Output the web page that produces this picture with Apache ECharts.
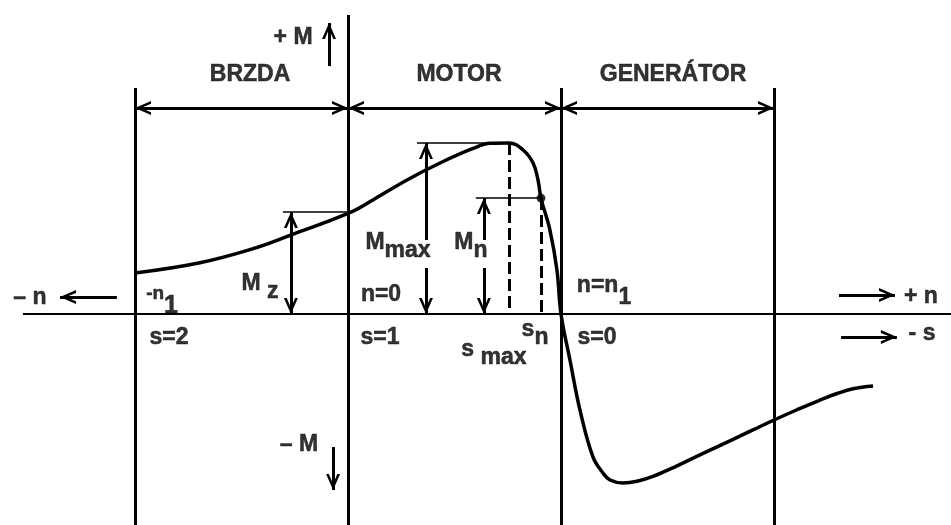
<!DOCTYPE html>
<html>
<head>
<meta charset="utf-8">
<script src="https://cdn.jsdelivr.net/npm/echarts@6/dist/echarts.min.js"></script>
<style>html,body{margin:0;padding:0;background:#fff}#c{width:951px;height:525px}</style>
</head>
<body>
<div id="c"></div>
<script>
// x: speed n / n1 ; y: torque M / Mmax
const curveN = [-1.000,-0.695,-0.446,-0.272,0.005,0.117,0.277,0.432,0.587,0.667,0.756,0.822,0.869,0.892,0.906,0.948,0.981,1.000,1.042,1.089,1.150,1.197,1.230,1.291,1.357,1.432,1.545,1.667,1.793,1.901,2.000,2.108,2.216,2.296,2.371,2.465];
const curveM = [0.240,0.300,0.382,0.460,0.591,0.667,0.784,0.883,0.968,0.998,1.000,0.959,0.883,0.784,0.678,0.491,0.257,0.000,-0.269,-0.561,-0.836,-0.930,-0.971,-0.988,-0.978,-0.950,-0.888,-0.815,-0.742,-0.678,-0.620,-0.560,-0.503,-0.465,-0.437,-0.421];

const regionBoundsN = [-1, 0, 1, 2];
const regionNames = ['BRZDA', 'MOTOR', 'GENERÁTOR'];

// characteristic points
const N_SMAX = 0.756, M_MAX = 1.0;      // breakdown torque
const N_SN = 0.906,  M_NOM = 0.678;     // nominal point
const N_MZ = -0.268, M_Z = 0.596;       // starting torque marker
const N_MMAX_ARROW = 0.366, N_MN_ARROW = 0.638;
const GAP_TOP = 0.433, GAP_BOTTOM = 0.269;

// annotations (text, n, M)
const annText = [
  'BRZDA', 'MOTOR', 'GENERÁTOR',
  '+ M', '– M', '– n', '+ n', '- s',
  '{su|-n}{dl|1}', '{u|M}{d| z}', 'n=0', 's=1', 's=2',
  '{u|M}{d|max}', '{u|M}{d|n}', '{uu|n=n}{dd|1}', 's=0', '{u|s}{d|n}', '{u|s }{d|max}'
];
const annN = [-0.460, 0.521, 1.526, -0.258, -0.230, -1.493, 2.690, 2.695,
  -0.873, -0.413, 0.155, 0.150, -0.840, 0.235, 0.577, 1.202, 1.169, 0.878, 0.685];
const annM = [1.397, 1.397, 1.397, 1.614, -0.766, 0.094, 0.099, -0.117,
  0.082, 0.152, 0.111, -0.140, -0.140, 0.392, 0.392, 0.129, -0.140, -0.117, -0.234];

// view window
const X_MIN = -1.6338, X_MAX = 2.8310, Y_MIN = -1.2339, Y_MAX = 1.8363;
const DIM_M = 1.205, FRAME_TOP = 1.322, AXIS_TOP = 1.749, AXIS_LEFT = -1.526;

const FONT = 'Liberation Sans';
const chev = 'path://M50,0 L100,100 L80,100 L50,38 L20,100 L0,100 Z';

function seg(a, b, s1, s2) {
  return [Object.assign({coord: a}, s1 || {}), Object.assign({coord: b}, s2 || {})];
}
const arrowEnd = {symbol: chev, symbolSize: [14, 16], symbolOffset: [0, 8]};
const noEnd = {symbol: 'none'};

const frameLines = regionBoundsN.map(n => seg([n, n === 0 ? AXIS_TOP : FRAME_TOP], [n, Y_MIN], noEnd, noEnd));
const dimLines = regionNames.map((_, i) => seg([regionBoundsN[i], DIM_M], [regionBoundsN[i + 1], DIM_M], arrowEnd, arrowEnd));
const refLines = [
  seg([N_MZ - 0.037, M_Z], [0, M_Z], noEnd, noEnd),
  seg([N_MMAX_ARROW - 0.042, M_MAX], [N_SMAX, M_MAX], noEnd, noEnd),
  seg([N_MN_ARROW - 0.038, M_NOM], [N_SN, M_NOM], noEnd, noEnd)
];
const measLines = [
  seg([N_MZ, M_Z], [N_MZ, 0], arrowEnd, arrowEnd),
  seg([N_MMAX_ARROW, M_MAX], [N_MMAX_ARROW, GAP_TOP], arrowEnd, noEnd),
  seg([N_MMAX_ARROW, GAP_BOTTOM], [N_MMAX_ARROW, 0], noEnd, arrowEnd),
  seg([N_MN_ARROW, M_NOM], [N_MN_ARROW, GAP_TOP], arrowEnd, noEnd),
  seg([N_MN_ARROW, GAP_BOTTOM], [N_MN_ARROW, 0], noEnd, arrowEnd)
];
const dashLines = [
  seg([N_SMAX, M_MAX], [N_SMAX, 0], noEnd, noEnd),
  seg([N_SN, M_NOM], [N_SN, 0], noEnd, noEnd)
];
const dirLines = [
  seg([-0.089, 1.450], [-0.089, 1.702], noEnd, arrowEnd),
  seg([-0.070, -0.778], [-0.070, -1.029], noEnd, arrowEnd),
  seg([-1.085, 0.099], [-1.352, 0.099], noEnd, arrowEnd),
  seg([2.305, 0.111], [2.568, 0.111], noEnd, arrowEnd),
  seg([2.315, -0.135], [2.577, -0.135], noEnd, arrowEnd)
];

function mlSeries(name, data, lineStyle) {
  return {
    name, type: 'line', data: [], silent: true,
    markLine: {
      silent: true, animation: false, symbol: ['none', 'none'],
      label: {show: false}, emphasis: {disabled: true},
      lineStyle: Object.assign({color: '#000', type: 'solid'}, lineStyle),
      data
    }
  };
}
const tok = (size, pad) => ({fontSize: size, fontWeight: 'bold', fontFamily: FONT, color: '#000',
  textBorderColor: '#000', textBorderWidth: 0.5, padding: pad});

const chart = echarts.init(document.getElementById('c'), null, {renderer: 'canvas'});
chart.setOption({
  backgroundColor: '#fff',
  animation: false,
  grid: {left: 0, right: 0, top: 0, bottom: 0},
  xAxis: {type: 'value', min: X_MIN, max: X_MAX, show: false},
  yAxis: {type: 'value', min: Y_MIN, max: Y_MAX, show: false},
  series: [
    mlSeries('frame', frameLines, {width: 3}),
    mlSeries('axis', [seg([AXIS_LEFT, 0], [X_MAX, 0], noEnd, noEnd)], {width: 2}),
    mlSeries('dims', dimLines, {width: 3}),
    mlSeries('refs', refLines, {width: 1.5}),
    mlSeries('meas', measLines, {width: 3}),
    mlSeries('dash', dashLines, {width: 3, type: [12, 5]}),
    mlSeries('dirs', dirLines, {width: 3}),
    {
      name: 'M(n)', type: 'line', smooth: 0.4, showSymbol: false, silent: true,
      lineStyle: {color: '#000', width: 3.5},
      data: curveN.map((n, i) => [n, curveM[i]])
    },
    {
      name: 'point', type: 'scatter', silent: true, symbol: 'circle', symbolSize: 9,
      itemStyle: {color: '#000'}, data: [[N_SN, M_NOM]]
    },
    {
      name: 'labels', type: 'scatter', silent: true, symbolSize: 0,
      data: annText.map((t, i) => ({value: [annN[i], annM[i]], name: t})),
      label: {
        show: true, position: 'inside', formatter: p => p.name,
        fontSize: 23, fontWeight: 'bold', fontFamily: FONT, color: '#000',
        textBorderColor: '#000', textBorderWidth: 0.5,
        rich: {
          u: tok(23, [0, 0, 8, 0]), d: tok(23, [8, 0, 0, 0]),
          uu: tok(23, [0, 0, 12, 0]), dd: tok(23, [12, 0, 0, 0]),
          su: tok(19, [0, 0, 12, 0]), dl: tok(25, [12, 0, 0, 0])
        }
      }
    }
  ]
});
</script>
</body>
</html>
